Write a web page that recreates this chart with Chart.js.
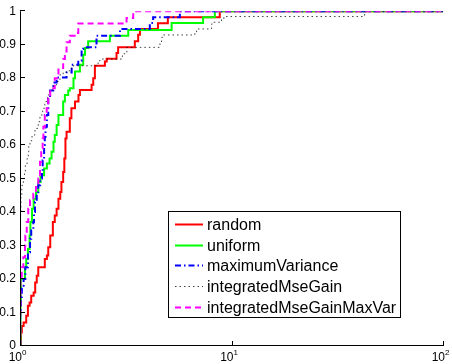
<!DOCTYPE html>
<html>
<head>
<meta charset="utf-8">
<script src="https://cdn.jsdelivr.net/npm/chart.js@4"></script>
<style>
  body { margin: 0; background: #fff; }
  #wrap { width: 452px; height: 364px; }
</style>
</head>
<body>
<div id="wrap"><canvas id="cdfChart" width="452" height="364"></canvas></div>
<script>
// series labels, in legend order
const seriesNames = ['random', 'uniform', 'maximumVariance', 'integratedMseGain', 'integratedMseGainMaxVar'];

// step points (x where the curve jumps, new y value)
const randomX = [1, 1.01, 1.02, 1.04, 1.07, 1.09, 1.11, 1.13, 1.16, 1.18, 1.2, 1.22, 1.31, 1.34, 1.36, 1.39, 1.43, 1.46, 1.49, 1.52, 1.55, 1.57, 1.6, 1.62, 1.64, 1.66, 1.72, 1.75, 1.82, 1.89, 1.92, 2.18, 2.22, 2.26, 2.52, 2.57, 2.86, 2.91, 3.49, 3.62, 3.69, 4.49, 5.0, 8.8, 100];
const randomY = [0, 0.04, 0.06, 0.07, 0.09, 0.12, 0.13, 0.15, 0.16, 0.19, 0.21, 0.235, 0.26, 0.27, 0.295, 0.33, 0.37, 0.39, 0.41, 0.44, 0.46, 0.49, 0.52, 0.56, 0.62, 0.64, 0.68, 0.71, 0.73, 0.75, 0.765, 0.78, 0.8, 0.837, 0.85, 0.858, 0.875, 0.892, 0.91, 0.93, 0.947, 0.964, 0.982, 1, 1];

const uniformX = [1, 1.005, 1.01, 1.056, 1.07, 1.09, 1.11, 1.12, 1.14, 1.16, 1.19, 1.22, 1.25, 1.3, 1.34, 1.38, 1.41, 1.44, 1.46, 1.49, 1.52, 1.6, 1.63, 1.69, 1.72, 1.79, 1.82, 1.92, 1.99, 2.03, 2.1, 2.66, 3.25, 5.21, 7.34, 8.34, 100];
const uniformY = [0, 0.12, 0.2, 0.235, 0.26, 0.29, 0.33, 0.37, 0.41, 0.44, 0.46, 0.49, 0.51, 0.53, 0.545, 0.56, 0.58, 0.61, 0.63, 0.66, 0.69, 0.73, 0.75, 0.763, 0.77, 0.8, 0.82, 0.84, 0.87, 0.89, 0.91, 0.927, 0.944, 0.965, 0.982, 1, 1];

const maxVarX = [1, 1.003, 1.008, 1.02, 1.04, 1.06, 1.09, 1.115, 1.13, 1.156, 1.165, 1.177, 1.2, 1.22, 1.245, 1.27, 1.28, 1.3, 1.31, 1.32, 1.34, 1.36, 1.386, 1.436, 1.49, 1.66, 1.755, 1.886, 1.956, 1.99, 2.3, 2.97, 4.11, 4.26, 5.7, 100];
const maxVarY = [0, 0.1, 0.146, 0.18, 0.2, 0.235, 0.28, 0.32, 0.345, 0.37, 0.4, 0.43, 0.455, 0.48, 0.5, 0.52, 0.555, 0.6, 0.625, 0.655, 0.69, 0.74, 0.763, 0.787, 0.802, 0.817, 0.84, 0.852, 0.887, 0.892, 0.927, 0.947, 0.965, 0.982, 1, 1];

const mseGainX = [1, 1.001, 1.003, 1.006, 1.01, 1.02, 1.037, 1.05, 1.06, 1.08, 1.094, 1.1, 1.115, 1.14, 1.177, 1.22, 1.243, 1.28, 1.31, 1.35, 1.386, 1.44, 1.49, 1.545, 1.6, 1.66, 1.755, 2.34, 2.39, 3.05, 3.2, 4.59, 4.67, 4.75, 6.71, 6.84, 8.05, 8.19, 8.97, 9.2, 42.6, 100];
const mseGainY = [0, 0.2, 0.3, 0.4, 0.45, 0.48, 0.5, 0.52, 0.54, 0.56, 0.58, 0.6, 0.613, 0.63, 0.65, 0.67, 0.69, 0.71, 0.73, 0.75, 0.765, 0.78, 0.79, 0.81, 0.817, 0.822, 0.837, 0.852, 0.857, 0.873, 0.892, 0.907, 0.922, 0.929, 0.937, 0.947, 0.962, 0.967, 0.977, 0.984, 1, 1];

const mseGainMaxVarX = [1, 1.002, 1.005, 1.019, 1.037, 1.056, 1.06, 1.076, 1.094, 1.115, 1.156, 1.19, 1.22, 1.243, 1.26, 1.28, 1.29, 1.31, 1.337, 1.36, 1.39, 1.46, 1.52, 1.6, 1.63, 1.66, 1.72, 1.85, 1.886, 3.19, 3.43, 100];
const mseGainMaxVarY = [0, 0.1, 0.2, 0.235, 0.265, 0.3, 0.33, 0.37, 0.41, 0.435, 0.455, 0.48, 0.5, 0.55, 0.59, 0.62, 0.655, 0.69, 0.71, 0.74, 0.77, 0.8, 0.83, 0.857, 0.88, 0.907, 0.927, 0.935, 0.963, 0.98, 1, 1];

// axes
const xTicks = [1, 10, 100];
const xTickExps = ['0', '1', '2'];
const yTicks = [0, 0.1, 0.2, 0.3, 0.4, 0.5, 0.6, 0.7, 0.8, 0.9, 1];
const yTickLabels = ['0', '0.1', '0.2', '0.3', '0.4', '0.5', '0.6', '0.7', '0.8', '0.9', '1'];

const styles = [
  { color: '#ff0000', width: 2, dash: [] },
  { color: '#00ff00', width: 2, dash: [] },
  { color: '#0000ff', width: 2, dash: [6, 3, 1.5, 3] },
  { color: 'rgba(0,0,0,0.75)', width: 1, dash: [1.5, 3] },
  { color: '#ff00ff', width: 2, dash: [6, 4] }
];

const xs = [randomX, uniformX, maxVarX, mseGainX, mseGainMaxVarX];
const ys = [randomY, uniformY, maxVarY, mseGainY, mseGainMaxVarY];

const FONT = "'Liberation Sans', Arial, Helvetica, sans-serif";
Chart.defaults.font.family = FONT;
Chart.defaults.color = '#000';

const datasets = seriesNames.map((name, i) => ({
  label: name,
  data: xs[i].map((x, k) => ({ x: x, y: ys[i][k] })),
  borderColor: styles[i].color,
  borderWidth: styles[i].width,
  borderDash: styles[i].dash,
  stepped: 'before',
  pointRadius: 0,
  fill: false,
  order: seriesNames.length - i
}));

const matlabAxes = {
  id: 'matlabAxes',
  afterDraw(chart) {
    const { ctx, chartArea: a, scales: { x, y } } = chart;
    ctx.save();
    ctx.setLineDash([]);
    ctx.strokeStyle = '#000';
    ctx.lineWidth = 1;
    ctx.beginPath();
    ctx.moveTo(a.left + 0.5, a.top);
    ctx.lineTo(a.left + 0.5, a.bottom - 0.5);
    ctx.lineTo(a.right + 1, a.bottom - 0.5);
    yTicks.forEach(v => {
      const py = Math.round(y.getPixelForValue(v)) - 0.5;
      ctx.moveTo(a.left, py);
      ctx.lineTo(a.left + 5, py);
    });
    xTicks.forEach(v => {
      const px = Math.round(x.getPixelForValue(v)) + 0.5;
      ctx.moveTo(px, a.bottom);
      ctx.lineTo(px, a.bottom - 5);
    });
    ctx.stroke();

    // x tick labels: 10 with raised exponent
    ctx.fillStyle = '#000';
    ctx.textBaseline = 'alphabetic';
    xTicks.forEach((v, i) => {
      const px = x.getPixelForValue(v) + 2;
      ctx.font = '12px ' + FONT;
      ctx.textAlign = 'right';
      ctx.fillText('10', px, 361);
      ctx.font = '8px ' + FONT;
      ctx.textAlign = 'left';
      ctx.fillText(xTickExps[i], px, 355);
    });

    // legend box
    const lx = 168.5, ly = 211.5, lw = 232, lh = 106;
    ctx.fillStyle = '#fff';
    ctx.fillRect(lx, ly, lw, lh);
    ctx.strokeStyle = '#000';
    ctx.strokeRect(lx, ly, lw, lh);
    ctx.font = '16px ' + FONT;
    ctx.textAlign = 'left';
    ctx.textBaseline = 'middle';
    chart.data.datasets.forEach((ds, i) => {
      const ry = Math.round(224 + i * 20.7) + 0.5;
      ctx.strokeStyle = styles[i].color;
      ctx.lineWidth = styles[i].width;
      ctx.setLineDash(styles[i].dash);
      ctx.beginPath();
      ctx.moveTo(175, ry);
      ctx.lineTo(203, ry);
      ctx.stroke();
      ctx.fillStyle = '#000';
      ctx.fillText(ds.label, 207, ry + 1);
    });
    ctx.restore();
  }
};

new Chart(document.getElementById('cdfChart'), {
  type: 'line',
  data: { datasets: datasets },
  options: {
    responsive: false,
    animation: false,
    layout: { padding: { top: 10, right: 9, left: 0, bottom: 0 } },
    plugins: { legend: { display: false }, tooltip: { enabled: false } },
    scales: {
      x: {
        type: 'logarithmic',
        min: 1,
        max: 100,
        afterBuildTicks: s => { s.ticks = xTicks.map(v => ({ value: v })); },
        afterFit: s => { s.height = 18; },
        ticks: { display: false },
        grid: { display: false },
        border: { display: false }
      },
      y: {
        type: 'linear',
        min: 0,
        max: 1,
        afterBuildTicks: s => { s.ticks = yTicks.map(v => ({ value: v })); },
        afterFit: s => { s.width = 20; },
        ticks: {
          padding: 4,
          font: { size: 12 },
          callback: (v, i) => yTickLabels[i]
        },
        grid: { display: false, drawTicks: false },
        border: { display: false }
      }
    }
  },
  plugins: [matlabAxes]
});
</script>
</body>
</html>
